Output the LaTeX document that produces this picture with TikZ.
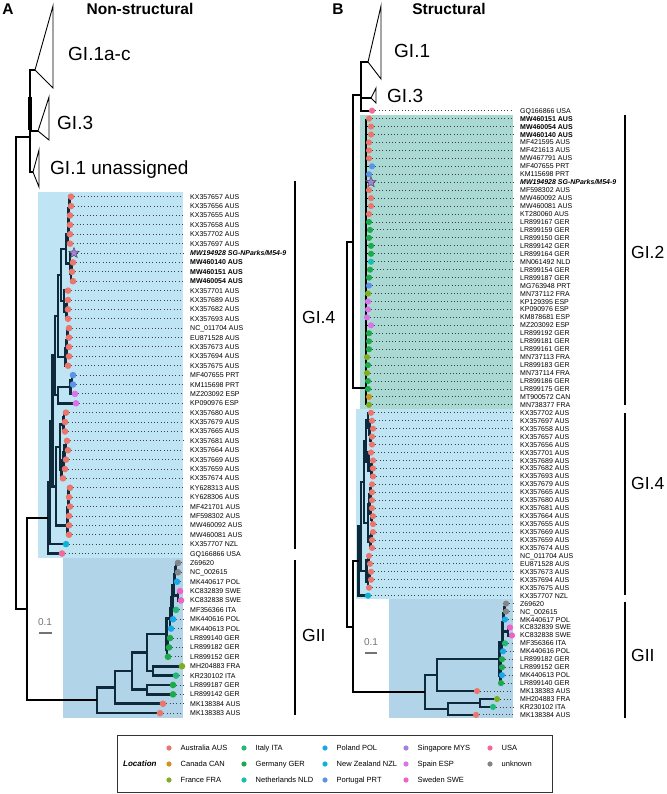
\documentclass[tikz,border=0pt]{standalone}
\usepackage{fontspec}
\setmainfont{Liberation Sans}
\usetikzlibrary{shapes.geometric,calc}

\definecolor{cAUS}{HTML}{EB766E}
\definecolor{cCAN}{HTML}{C9961E}
\definecolor{cFRA}{HTML}{7FAE24}
\definecolor{cITA}{HTML}{22B878}
\definecolor{cGER}{HTML}{1DAA4A}
\definecolor{cNLD}{HTML}{17BFAE}
\definecolor{cPOL}{HTML}{1AA8E8}
\definecolor{cNZL}{HTML}{0DB4D6}
\definecolor{cPRT}{HTML}{5B93E6}
\definecolor{cMYS}{HTML}{A67FE0}
\definecolor{cESP}{HTML}{DB72E8}
\definecolor{cSWE}{HTML}{EE63C6}
\definecolor{cUSA}{HTML}{F36A98}
\definecolor{cUNK}{HTML}{858585}
\definecolor{bgGIfour}{HTML}{BFE5F4}
\definecolor{bgGII}{HTML}{B1D4E8}
\definecolor{bgGItwo}{HTML}{A9D9D2}
\definecolor{navy}{HTML}{0E2A3A}

\tikzset{
 ob/.style={draw=black, line width=2pt},
 ib/.style={draw=navy, line width=2.6pt},
 gb/.style={draw=black, line width=1.1pt},
 tri/.style={draw=black, line width=0.9pt, line join=miter},
 dotl/.style={draw=black!75, line width=0.9pt, dash pattern=on 0.9pt off 2.4pt},
 lab/.style={anchor=west, inner sep=0pt, text height=5pt, text depth=0pt, font=\fontsize{7}{8}\selectfont},
 labb/.style={lab, font=\fontsize{7}{8}\selectfont\bfseries},
 labbi/.style={lab, font=\fontsize{7}{8}\selectfont\bfseries\itshape},
 clab/.style={anchor=west, inner sep=0pt, text height=13.6pt, text depth=0pt, font=\fontsize{19}{22}\selectfont},
 blab/.style={anchor=west, inner sep=0pt, text height=12.5pt, text depth=0pt, font=\fontsize{17.5}{20}\selectfont},
 ttl/.style={inner sep=0pt, font=\fontsize{15.5}{18}\selectfont\bfseries},
 cbar/.style={draw=black, line width=2pt},
 sbar/.style={draw=black!55, line width=2.7pt},
 legt/.style={anchor=west, inner sep=0pt, text height=5.4pt, text depth=0pt, font=\fontsize{7.5}{9}\selectfont},
 starm/.style={star, star points=5, star point ratio=2.3, fill=cMYS, draw=black!70, line width=0.5pt, minimum size=11pt, inner sep=0pt},
 sctxt/.style={inner sep=0pt, text=black!55, font=\fontsize{10}{11}\selectfont},
}

\newcommand\tn[5][ib]{%
  \path let \p1=(#4), \p2=(#5) in coordinate (#2) at ({#3pt},{0.5*\y1+0.5*\y2});
  \draw[#1] (#4) -| (#2) |- (#5);
}

\def\leavesA{%
71/AUS/KX357657 AUS/lab/0,
71/AUS/KX357656 AUS/lab/0,
70/AUS/KX357655 AUS/lab/0,
70/AUS/KX357658 AUS/lab/0,
70/AUS/KX357702 AUS/lab/0,
70/AUS/KX357697 AUS/lab/0,
74/MYS/{MW194928 SG-NParks/M54-9}/labbi/1,
73/AUS/MW460140 AUS/labb/0,
72/AUS/MW460151 AUS/labb/0,
73/AUS/MW460054 AUS/labb/0,
68/AUS/KX357701 AUS/lab/0,
68/AUS/KX357689 AUS/lab/0,
68/AUS/KX357682 AUS/lab/0,
68/AUS/KX357693 AUS/lab/0,
69/AUS/NC\_011704 AUS/lab/0,
69/AUS/EU871528 AUS/lab/0,
69/AUS/KX357673 AUS/lab/0,
69/AUS/KX357694 AUS/lab/0,
68/AUS/KX357675 AUS/lab/0,
73/PRT/MF407655 PRT/lab/0,
73/PRT/KM115698 PRT/lab/0,
75/ESP/MZ203092 ESP/lab/0,
76/ESP/KP090976 ESP/lab/0,
66/AUS/KX357680 AUS/lab/0,
65/AUS/KX357679 AUS/lab/0,
65/AUS/KX357665 AUS/lab/0,
67/AUS/KX357681 AUS/lab/0,
68/AUS/KX357664 AUS/lab/0,
66/AUS/KX357669 AUS/lab/0,
65/AUS/KX357659 AUS/lab/0,
63/AUS/KX357674 AUS/lab/0,
70/AUS/KY628313 AUS/lab/0,
69/AUS/KY628306 AUS/lab/0,
70/AUS/MF421701 AUS/lab/0,
69/AUS/MF598302 AUS/lab/0,
69/AUS/MW460092 AUS/lab/0,
69/AUS/MW460081 AUS/lab/0,
66/NZL/KX357707 NZL/lab/0,
62/USA/GQ166866 USA/lab/0,
178/UNK/Z69620/lab/0,
178/UNK/NC\_002615/lab/0,
177/POL/MK440617 POL/lab/0,
180/SWE/KC832839 SWE/lab/0,
181/SWE/KC832838 SWE/lab/0,
176/ITA/MF356366 ITA/lab/0,
173/POL/MK440616 POL/lab/0,
171/POL/MK440613 POL/lab/0,
170/GER/LR899140 GER/lab/0,
169/GER/LR899182 GER/lab/0,
168/GER/LR899152 GER/lab/0,
182/FRA/MH204883 FRA/lab/0,
176/ITA/KR230102 ITA/lab/0,
173/GER/LR899187 GER/lab/0,
173/GER/LR899142 GER/lab/0,
163/AUS/MK138384 AUS/lab/0,
160/AUS/MK138383 AUS/lab/0}

\def\leavesB{%
372/USA/GQ166866 USA/lab/0,
369/AUS/MW460151 AUS/labb/0,
371/AUS/MW460054 AUS/labb/0,
371/AUS/MW460140 AUS/labb/0,
369/AUS/MF421595 AUS/lab/0,
369/AUS/MF421613 AUS/lab/0,
369/AUS/MW467791 AUS/lab/0,
372/PRT/MF407655 PRT/lab/0,
369/PRT/KM115698 PRT/lab/0,
371/MYS/{MW194928 SG-NParks/M54-9}/labbi/1,
369/AUS/MF598302 AUS/lab/0,
371/AUS/MW460092 AUS/lab/0,
371/AUS/MW460081 AUS/lab/0,
369/AUS/KT280060 AUS/lab/0,
369/GER/LR899167 GER/lab/0,
370/GER/LR899159 GER/lab/0,
369/GER/LR899150 GER/lab/0,
371/GER/LR899142 GER/lab/0,
371/GER/LR899164 GER/lab/0,
371/NLD/MN061492 NLD/lab/0,
370/GER/LR899154 GER/lab/0,
369/GER/LR899187 GER/lab/0,
369/PRT/MG763948 PRT/lab/0,
368/FRA/MN737112 FRA/lab/0,
368/ESP/KP129395 ESP/lab/0,
368/ESP/KP090976 ESP/lab/0,
367/ESP/KM878681 ESP/lab/0,
371/ESP/MZ203092 ESP/lab/0,
369/GER/LR899192 GER/lab/0,
369/GER/LR899181 GER/lab/0,
369/GER/LR899161 GER/lab/0,
367/FRA/MN737113 FRA/lab/0,
368/GER/LR899183 GER/lab/0,
367/FRA/MN737114 FRA/lab/0,
368/GER/LR899186 GER/lab/0,
368/GER/LR899175 GER/lab/0,
369/CAN/MT900572 CAN/lab/0,
369/FRA/MN738377 FRA/lab/0,
371/AUS/KX357702 AUS/lab/0,
372/AUS/KX357697 AUS/lab/0,
373/AUS/KX357658 AUS/lab/0,
372/AUS/KX357657 AUS/lab/0,
372/AUS/KX357656 AUS/lab/0,
371/AUS/KX357701 AUS/lab/0,
373/AUS/KX357689 AUS/lab/0,
373/AUS/KX357682 AUS/lab/0,
373/AUS/KX357693 AUS/lab/0,
372/AUS/KX357679 AUS/lab/0,
372/AUS/KX357665 AUS/lab/0,
372/AUS/KX357680 AUS/lab/0,
372/AUS/KX357681 AUS/lab/0,
373/AUS/KX357664 AUS/lab/0,
373/AUS/KX357655 AUS/lab/0,
373/AUS/KX357669 AUS/lab/0,
372/AUS/KX357659 AUS/lab/0,
372/AUS/KX357674 AUS/lab/0,
369/AUS/NC\_011704 AUS/lab/0,
370/AUS/EU871528 AUS/lab/0,
371/AUS/KX357673 AUS/lab/0,
371/AUS/KX357694 AUS/lab/0,
369/AUS/KX357675 AUS/lab/0,
368/NZL/KX357707 NZL/lab/0,
506/UNK/Z69620/lab/0,
506/UNK/NC\_002615/lab/0,
505/POL/MK440617 POL/lab/0,
510/SWE/KC832839 SWE/lab/0,
512/SWE/KC832838 SWE/lab/0,
505/ITA/MF356366 ITA/lab/0,
503/POL/MK440616 POL/lab/0,
502/GER/LR899182 GER/lab/0,
502/GER/LR899152 GER/lab/0,
502/POL/MK440613 POL/lab/0,
501/GER/LR899140 GER/lab/0,
477/AUS/MK138383 AUS/lab/0,
497/FRA/MH204883 FRA/lab/0,
493/ITA/KR230102 ITA/lab/0,
476/AUS/MK138384 AUS/lab/0}

\begin{document}
\begin{tikzpicture}[x=1pt,y=-1pt]
\useasboundingbox (0,0) rectangle (666,794);

% ---------- backgrounds ----------
\fill[bgGIfour] (38,192) rectangle (183,558);
\fill[bgGII] (63,558) rectangle (183,718);
\fill[bgGItwo] (360,115) rectangle (513,409);
\fill[bgGIfour] (356,409) rectangle (513,599);
\fill[bgGII] (389,599) rectangle (513,718);

% ---------- titles ----------
\node[ttl] (tA) at (8,9) {A};
\node[ttl] (tAn) at (140,9) {Non-structural};
\node[ttl] (tB) at (338,9) {B};
\node[ttl] (tBn) at (449,9) {Structural};

% ---------- leaves: coordinates, dotted lines, labels ----------
\foreach \tx/\cc/\lab/\st/\mk [count=\i] in \leavesA {
  \pgfmathsetmacro\yy{196.7+(\i-1)*9.39}
  \coordinate (a\i) at (\tx,\yy);
  \draw[dotl] (a\i) -- (183,\yy);
  \node[\st] (la\i) at (190,\yy) {\lab};
}
\foreach \tx/\cc/\lab/\st/\mk [count=\i] in \leavesB {
  \pgfmathsetmacro\yy{110.7+(\i-1)*7.95}
  \coordinate (b\i) at (\tx,\yy);
  \draw[dotl] (b\i) -- (513,\yy);
  \node[\st] (lb\i) at (520,\yy) {\lab};
}

% ---------- panel A: outgroups ----------
\coordinate (tA1) at (35,70);
\coordinate (tA3) at (38,131);
\coordinate (tAu) at (33,172);
\draw[tri] (tA1) -- (53,6) -- (53,88) -- cycle;
\draw[tri] (tA3) -- (49,97) -- (49,140) -- cycle;
\draw[tri] (tAu) -- (39,150) -- (39,187) -- cycle;
\coordinate (oA) at (30,137);
\draw[ob] (tA1) -| (oA) |- (tAu);
\draw[ob] (oA |- tA3) -- (tA3);
\draw[ob, line width=3.2pt] (30,97) -- (30,130);
\node[clab] (cA1) at (68,54) {GI.1a-c};
\node[clab] (cA3) at (57,123) {GI.3};
\node[clab] (cAu) at (50,168) {GI.1 unassigned};

% ---------- panel A: GI.4 ----------
\tn{n1a}{69.5}{a1}{a2}
\tn{n1b}{69}{n1a}{a3}
\tn{n1c}{68.6}{n1b}{a4}
\tn{n1d}{68.2}{n1c}{a5}
\tn{n1e}{67.8}{n1d}{a6}
\tn{n2a}{71.5}{a8}{a9}
\tn{n2b}{71}{n2a}{a10}
\tn{n2c}{70}{a7}{n2b}
\tn{n12}{66}{n1e}{n2c}
\tn{n3a}{67}{a12}{a13}
\tn{n3b}{66.5}{n3a}{a14}
\tn{n3c}{64}{a11}{n3b}
\tn{n123}{61}{n12}{n3c}
\tn{n4a}{67.5}{a15}{a16}
\tn{n4b}{67}{n4a}{a17}
\tn{n4c}{66.5}{n4b}{a18}
\tn{n4d}{65.5}{n4c}{a19}
\tn{n1234}{58}{n123}{n4d}
\tn{n5a}{72}{a20}{a21}
\tn{n5b}{70.5}{n5a}{a22}
\tn{n5c}{58}{n5b}{a23}
\tn{n12345}{55}{n1234}{n5c}
\tn{n6a}{64}{a24}{a25}
\tn{n6b}{63.5}{n6a}{a26}
\tn{n6c}{66}{a27}{a28}
\tn{n6d}{64.5}{n6c}{a29}
\tn{n6e}{63.5}{n6d}{a30}
\tn{n6f}{61.5}{n6e}{a31}
\tn{n6g}{60}{n6b}{n6f}
\tn{n7a}{68.5}{a32}{a33}
\tn{n7b}{68.2}{n7a}{a34}
\tn{n7c}{67.9}{n7b}{a35}
\tn{n7d}{67.6}{n7c}{a36}
\tn{n7e}{67.3}{n7d}{a37}
\tn{n67}{56}{n6g}{n7e}
\tn{n137}{52.5}{n12345}{n67}
\tn{n38}{50}{n137}{a38}
\tn{n39}{48}{n38}{a39}

% ---------- panel A: GII ----------
\tn{p1}{176}{a40}{a41}
\tn{p2}{175}{p1}{a42}
\tn{p3}{178}{a43}{a44}
\tn{p4}{174}{p2}{p3}
\tn{p5}{172.5}{p4}{a45}
\tn{p6}{171.2}{p5}{a46}
\tn{p7}{169.8}{p6}{a47}
\tn{p8}{168}{a48}{a49}
\tn{p9}{167}{p8}{a50}
\tn{p10}{166.5}{p7}{p9}
\tn{p11}{153}{a51}{a52}
\tn{p12}{147}{p10}{p11}
\tn{p13}{147}{a53}{a54}
\tn{p14}{132}{p12}{p13}
\tn{p15}{115}{p14}{a55}
\tn{p16}{97}{p15}{a56}

% ---------- panel A: backbone ----------
\tn[ob]{inA}{27}{n39}{p16}
\tn[ob]{rootA}{16}{oA}{inA}

% ---------- panel B: outgroups ----------
\coordinate (tB1) at (368,62);
\coordinate (tB3) at (371,98);
\draw[tri] (tB1) -- (381,6) -- (381,79) -- cycle;
\draw[tri] (tB3) -- (376,88) -- (376,103) -- cycle;
\coordinate (o1) at (361,95);
\draw[ob] (tB1) -| (o1) |- (b1);
\draw[ob] (o1 |- tB3) -- (tB3);
\node[clab] (cB1) at (394,51) {GI.1};
\node[clab] (cB3) at (387,96) {GI.3};

% ---------- panel B: GI.2 ----------
\coordinate (g2) at (366,388);
\draw[gb] (g2 |- b2) -- (g2 |- b38);
\foreach \k in {2,...,38} \draw[gb] (g2 |- b\k) -- (b\k);
\tn[ob]{qB}{353}{o1}{g2}

% ---------- panel B: GI.4 ----------
\tn{m1}{371}{b42}{b43}
\tn{m2}{370}{b41}{m1}
\tn{m3}{369.5}{b40}{m2}
\tn{m4}{368}{b39}{m3}
\tn{m5}{372}{b45}{b46}
\tn{m6}{371.5}{m5}{b47}
\tn{m7}{368.5}{b44}{m6}
\tn{m8}{366}{m4}{m7}
\tn{m9}{371}{b48}{b49}
\tn{m10}{370.5}{m9}{b50}
\tn{m11}{372}{b52}{b53}
\tn{m12}{371}{b51}{m11}
\tn{m13}{369.5}{m10}{m12}
\tn{m14}{371.5}{b54}{b55}
\tn{m15}{370.5}{m14}{b56}
\tn{m16}{368}{m13}{m15}
\tn{m17}{364}{m8}{m16}
\tn{m18}{368.5}{b57}{b58}
\tn{m19}{369.5}{b59}{b60}
\tn{m20}{368}{m19}{b61}
\tn{m21}{366.5}{m18}{m20}
\tn{m22}{361}{m17}{m21}
\tn{m23}{358.5}{m22}{b62}

% ---------- panel B: GII ----------
\tn{k1}{505}{b63}{b64}
\tn{k2}{504}{k1}{b65}
\tn{k3}{508}{b66}{b67}
\tn{k4}{503}{k2}{k3}
\tn{k5}{502.5}{k4}{b68}
\tn{k6}{502}{k5}{b69}
\tn{k7}{501}{b70}{b71}
\tn{k8}{500.5}{k7}{b72}
\tn{k8b}{500.2}{k8}{b73}
\tn{k9}{499.5}{k6}{k8b}
\tn{h437}{437}{k9}{b74}
\tn{h480}{480}{b75}{b76}
\tn{h448}{448}{h480}{b77}
\tn{gIIB}{425}{h437}{h448}

% ---------- panel B: backbone ----------
\tn[ob]{pB}{353}{m23}{gIIB}
\tn[ob]{rB}{347}{qB}{pB}

% ---------- tip markers ----------
\foreach \tx/\cc/\lab/\st/\mk [count=\i] in \leavesA {
  \ifnum\mk=1 \node[starm] (sa\i) at (a\i) {}; \else \fill[c\cc] (a\i) circle (3.3); \fi
}
\foreach \tx/\cc/\lab/\st/\mk [count=\i] in \leavesB {
  \ifnum\mk=1 \node[starm] (sb\i) at (b\i) {}; \else \fill[c\cc] (b\i) circle (3.1); \fi
}

% ---------- clade bars ----------
\draw[cbar] (295,181) -- (295,549);
\draw[cbar] (295,560) -- (295,715);
\node[blab] (cA4) at (302,317) {GI.4};
\node[blab] (cAII) at (302,635) {GII};
\draw[cbar] (625,115) -- (625,405);
\draw[cbar] (625,413) -- (625,595);
\draw[cbar] (625,602) -- (625,718);
\node[blab] (cB2) at (631,252) {GI.2};
\node[blab] (cB4) at (631,483) {GI.4};
\node[blab] (cBII) at (631,655) {GII};

% ---------- scale bars ----------
\node[sctxt] (scA) at (45,622) {0.1};
\draw[sbar] (39,633) -- (52,633);
\node[sctxt] (scB) at (371,642) {0.1};
\draw[sbar] (365,653) -- (377,653);

% ---------- legend ----------
\draw[black!80, line width=0.8pt] (117,735) rectangle (552,792);
\node[anchor=west, inner sep=0pt, font=\fontsize{8}{9}\selectfont\bfseries\itshape] (lgt) at (123,764) {Location};
\foreach \dx/\ry/\cc/\lt in {
  169/748/AUS/Australia AUS, 169/764/CAN/Canada CAN, 169/780/FRA/France FRA,
  244/748/ITA/Italy ITA, 244/764/GER/Germany GER, 244/780/NLD/Netherlands NLD,
  325/748/POL/Poland POL, 325/764/NZL/New Zealand NZL, 325/780/PRT/Portugal PRT,
  406/748/MYS/Singapore MYS, 406/764/ESP/Spain ESP, 406/780/SWE/Sweden SWE,
  490/748/USA/USA, 490/764/UNK/unknown} {
  \fill[c\cc] (\dx,\ry) circle (2.6);
  \node[legt] at (\dx+11.5,\ry) {\lt};
}
\end{tikzpicture}
\end{document}
